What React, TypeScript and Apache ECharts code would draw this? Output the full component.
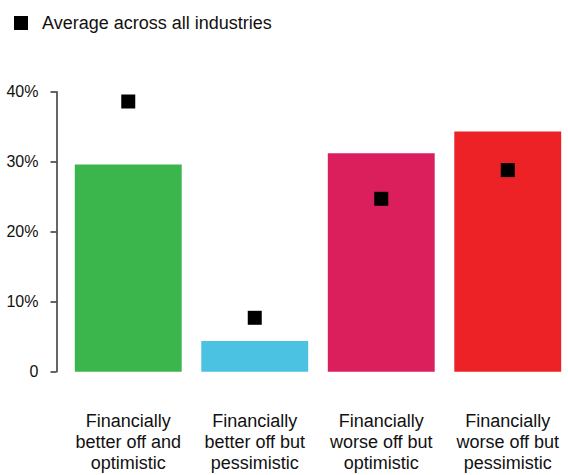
import React, { useEffect, useRef } from "react";
import * as echarts from "echarts";

const categories = [
  "Financially\nbetter off and\noptimistic",
  "Financially\nbetter off but\npessimistic",
  "Financially\nworse off but\noptimistic",
  "Financially\nworse off but\npessimistic",
];
const barValues = [29.6, 4.4, 31.2, 34.3];
const barColors = ["#3AB64D", "#4CC2E3", "#DA1F5C", "#EC2227"];
const averageValues = [38.6, 7.7, 24.7, 28.8];
const averageName = "Average across all industries";
const yTicks = [0, 10, 20, 30, 40];

export default function App() {
  const ref = useRef<HTMLDivElement>(null);
  useEffect(() => {
    document.body.style.margin = "0";
    const chart = echarts.init(ref.current!, null, { renderer: "svg" });
    const font = "'Liberation Sans', Arial, sans-serif";
    chart.setOption({
      animation: false,
      textStyle: { fontFamily: font },
      legend: {
        data: [{ name: averageName, icon: "rect", itemStyle: { color: "#000", opacity: 1 } }],
        left: 9,
        top: 9,
        itemWidth: 14,
        itemHeight: 14,
        selectedMode: false,
        textStyle: { fontSize: 18, color: "#111", fontFamily: font, padding: [0, 0, 0, 9] },
      },
      grid: {
        left: 65,
        right: -3,
        top: 91.7,
        bottom: 103.3,
        containLabel: false,
        outerBoundsMode: "none",
      },
      xAxis: {
        type: "category",
        data: categories,
        axisLine: { show: false },
        axisTick: { show: false },
        axisLabel: {
          interval: 0,
          fontSize: 18,
          lineHeight: 21,
          color: "#111",
          margin: 38.5,
          fontFamily: font,
        },
      },
      yAxis: {
        type: "value",
        min: yTicks[0],
        max: yTicks[yTicks.length - 1],
        interval: 10,
        offset: 8.5,
        splitLine: { show: false },
        axisLine: { show: true, lineStyle: { color: "#333", width: 1.5 } },
        axisTick: { show: true, length: 6, lineStyle: { color: "#333", width: 1.5 } },
        axisLabel: {
          fontSize: 16,
          color: "#111",
          margin: 18,
          fontFamily: font,
          formatter: (v: number) => (v === 0 ? "0" : v + "%"),
        },
      },
      series: [
        {
          type: "bar",
          name: "Share",
          barWidth: "84.5%",
          data: barValues.map((v, i) => ({ value: v, itemStyle: { color: barColors[i] } })),
        },
        {
          type: "scatter",
          name: averageName,
          symbol: "rect",
          symbolSize: 14,
          itemStyle: { color: "#000", opacity: 1 },
          data: averageValues,
          z: 5,
        },
      ],
    });
    return () => chart.dispose();
  }, []);
  return <div ref={ref} style={{ width: 568, height: 475 }} />;
}
